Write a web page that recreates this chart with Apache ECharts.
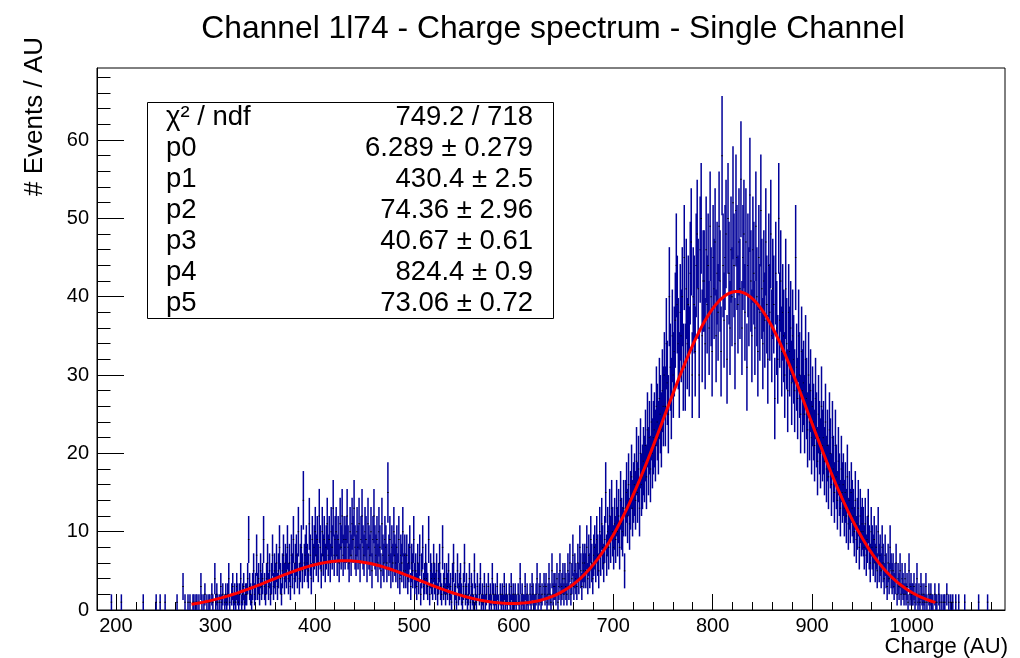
<!DOCTYPE html>
<html>
<head>
<meta charset="utf-8">
<script src="https://cdn.jsdelivr.net/npm/echarts@6/dist/echarts.min.js"></script>
<style>
  html, body { margin: 0; padding: 0; background: #ffffff; }
  #chart { width: 1020px; height: 658px; }
</style>
</head>
<body>
<div id="chart"></div>
<script>
// Histogram: 1 AU wide bins, first bin starts at binStart (AU)
const binStart = 181;

// bins 181 - 300
const countsA = [
  0,0,0,0,0,0,0,0,0,0,
  0,0,0,0,1,0,0,0,0,0,
  0,0,0,0,1,0,0,0,0,0,
  0,0,0,0,0,0,0,0,0,0,
  0,0,0,0,0,0,1,0,0,0,
  0,0,0,0,0,0,0,0,0,1,
  0,0,0,1,0,0,0,0,1,0,
  0,0,0,0,0,0,0,0,0,0,
  1,0,0,0,0,0,3,0,1,0,
  0,1,0,1,0,0,1,1,0,1,
  1,0,1,0,3,1,0,1,2,0,
  1,0,1,1,0,2,1,0,4,1
];
// bins 301 - 500
const countsB = [
  2,1,0,1,3,1,2,0,1,2,
  1,2,4,1,0,2,3,1,2,1,
  3,2,1,2,4,1,2,3,1,2,
  2,4,9,3,2,1,3,5,2,3,
  7,3,4,2,5,3,4,9,3,2,
  4,6,3,5,2,4,7,3,5,4,
  6,3,5,8,4,2,5,7,4,6,
  5,8,4,6,3,7,5,9,4,6,
  7,5,10,4,6,8,5,14,6,7,
  8,6,5,11,7,4,9,6,8,10,
  7,9,6,12,8,5,10,7,9,6,
  8,11,7,9,6,10,8,13,7,9,
  10,7,9,6,11,8,12,7,9,8,
  9,12,8,6,10,7,11,9,13,8,
  7,10,8,11,6,9,12,8,7,10,
  9,6,11,8,7,10,5,9,12,8,
  7,9,6,10,8,5,11,7,6,9,
  8,6,15,7,9,5,8,6,10,7,
  6,8,5,9,4,7,6,10,5,7,
  5,7,4,6,8,3,6,5,9,4
];
// bins 501 - 700
const countsC = [
  5,3,6,4,7,2,5,8,3,4,
  6,4,3,9,2,5,4,3,6,4,
  3,5,2,4,6,3,2,8,3,4,
  2,4,3,5,2,3,1,4,6,2,
  3,1,5,2,3,4,2,1,3,6,
  2,3,1,2,4,1,3,2,1,5,
  2,1,3,0,2,4,1,2,1,3,
  1,2,0,3,1,2,1,4,2,1,
  2,1,3,1,0,2,1,2,1,3,
  1,2,1,0,2,1,3,1,2,1,
  2,1,0,2,1,4,1,2,1,1,
  3,1,2,1,0,2,1,3,2,1,
  1,2,4,1,2,3,1,2,0,3,
  2,3,1,2,4,2,1,5,2,3,
  3,2,4,1,3,5,2,3,4,2,
  4,3,2,5,3,6,2,4,7,3,
  5,4,3,6,4,8,5,3,6,5,
  6,5,8,4,7,5,9,6,4,7,
  8,6,9,7,5,10,7,11,8,6,
  9,15,7,10,8,12,9,13,10,8
];
// bins 701 - 900
const countsD = [
  11,9,13,10,12,8,14,11,10,13,
  5,13,15,12,16,11,14,17,13,15,
  16,14,19,15,18,13,20,16,17,19,
  18,21,17,23,19,22,18,24,20,22,
  23,21,26,24,22,27,25,23,28,26,
  30,26,34,29,25,40,31,27,35,30,
  33,37,44,39,34,30,38,35,40,31,
  45,31,41,34,39,33,43,47,30,40,
  39,33,44,48,41,30,46,50,35,42,
  42,34,46,39,44,36,49,40,33,45,
  41,47,35,43,38,49,42,33,58,44,
  37,45,48,32,50,43,36,46,40,52,
  44,34,51,45,39,47,41,55,36,45,
  48,38,47,31,44,40,53,42,35,46,
  43,36,49,40,33,45,38,51,41,34,
  42,37,47,39,32,44,38,48,35,41,
  39,27,43,36,32,50,37,42,33,38,
  35,30,41,34,28,38,33,36,29,35,
  32,28,45,31,27,35,30,25,33,28,
  29,25,32,27,23,30,24,28,22,26
];
// bins 901 - 1093
const countsE = [
  24,21,27,23,19,25,22,20,26,21,
  22,19,24,18,21,17,23,20,16,22,
  18,15,21,17,14,19,16,13,18,15,
  16,13,15,12,17,11,14,12,15,13,
  12,10,14,9,11,13,8,12,10,11,
  10,8,11,7,9,12,8,6,10,8,
  7,9,6,8,5,10,6,7,5,8,
  6,4,7,5,3,6,4,8,5,4,
  5,3,4,6,2,4,3,5,2,4,
  3,2,4,2,3,1,5,2,3,2,
  2,3,1,2,4,1,2,1,3,2,
  1,2,1,3,1,0,2,1,2,1,
  1,0,2,1,1,0,2,1,0,1,
  0,1,1,0,2,0,1,0,1,0,
  1,0,0,1,0,0,1,0,0,0,
  0,0,1,0,0,0,0,0,0,0,
  0,0,0,0,0,0,1,0,0,0,
  0,0,0,0,0,1,0,0,0,0,
  0,0,0,0,0,0,0,0,0,0,
  0,0,0
];

// Fit: p0*gaus(p1,p2) + p3*gaus(p4,p5)
const fitParams = [6.289, 430.4, 74.36, 40.67, 824.4, 73.06];
const fitRange = [276, 1024];

// Stats box rows
const statNames = ['\u03c7\u00b2 / ndf', 'p0', 'p1', 'p2', 'p3', 'p4', 'p5'];
const statValues = ['749.2 / 718', '6.289 \u00b1 0.279', '430.4 \u00b1 2.5', '74.36 \u00b1 2.96',
                    '40.67 \u00b1 0.61', '824.4 \u00b1 0.9', '73.06 \u00b1 0.72'];

// Axis ticks
const xTickLabels = [200, 300, 400, 500, 600, 700, 800, 900, 1000];
const yTickLabels = [0, 10, 20, 30, 40, 50, 60];
const xRange = [181, 1094];
const yRange = [0, 69.2];

const FONT = "'Liberation Sans', Arial, Helvetica, sans-serif";

const counts = countsA.concat(countsB, countsC, countsD, countsE);
const histData = counts.map((n, i) => [binStart + i + 0.5, n]);

function fitFunc(x) {
  const [a1, m1, s1, a2, m2, s2] = fitParams;
  const d1 = (x - m1) / s1, d2 = (x - m2) / s2;
  return a1 * Math.exp(-0.5 * d1 * d1) + a2 * Math.exp(-0.5 * d2 * d2);
}
const fitData = [];
for (let x = fitRange[0]; x <= fitRange[1]; x += 1) fitData.push([x, fitFunc(x)]);

const xMinor = [];
for (let v = 200; v < xRange[1]; v += 20) if (v % 100 !== 0) xMinor.push(v);
const yMinor = [];
for (let v = 2; v < yRange[1]; v += 2) if (v % 10 !== 0) yMinor.push(v);

// Error bar (n +- sqrt(n)) plus a small marker at the bin content
function renderBin(params, api) {
  const n = api.value(1);
  if (!(n > 0)) return null;
  const x = api.value(0);
  const e = Math.sqrt(n);
  const top = api.coord([x, n + e]);
  const bot = api.coord([x, n - e]);
  const mid = api.coord([x, n]);
  return {
    type: 'group',
    children: [
      { type: 'line', shape: { x1: mid[0], y1: top[1], x2: mid[0], y2: bot[1] },
        style: { stroke: '#000099', lineWidth: 1.5 } },
      { type: 'rect', shape: { x: mid[0] - 0.75, y: mid[1] - 0.5, width: 1.5, height: 1 },
        style: { fill: '#000000' } }
    ]
  };
}

const axisLineStyle = { color: '#000', width: 1 };
const plainNumber = v => String(v);

const chart = echarts.init(document.getElementById('chart'), null, { renderer: 'canvas' });
chart.setOption({
  animation: false,
  backgroundColor: '#ffffff',
  title: {
    text: 'Channel 1l74 - Charge spectrum - Single Channel',
    left: 548, top: 8, textAlign: 'center',
    textStyle: { fontFamily: FONT, fontSize: 31.8, fontWeight: 'normal', color: '#000' }
  },
  grid: { left: 97, right: 15, top: 68, bottom: 48, show: true,
          borderColor: '#000', borderWidth: 1, backgroundColor: 'transparent' },
  xAxis: [
    { type: 'value', min: xRange[0], max: xRange[1], position: 'bottom',
      axisLine: { show: true, lineStyle: axisLineStyle },
      axisTick: { show: true, inside: true, length: 16, customValues: xTickLabels, lineStyle: axisLineStyle },
      axisLabel: { customValues: xTickLabels, formatter: plainNumber, fontFamily: FONT, fontSize: 20, color: '#000', margin: 6 },
      splitLine: { show: false } },
    { type: 'value', min: xRange[0], max: xRange[1], position: 'bottom',
      axisLine: { show: false },
      axisTick: { show: true, inside: true, length: 8, customValues: xMinor, lineStyle: axisLineStyle },
      axisLabel: { show: false },
      splitLine: { show: false } }
  ],
  yAxis: [
    { type: 'value', min: yRange[0], max: yRange[1], position: 'left',
      axisLine: { show: true, lineStyle: axisLineStyle },
      axisTick: { show: true, inside: true, length: 27, customValues: yTickLabels, lineStyle: axisLineStyle },
      axisLabel: { customValues: yTickLabels, formatter: plainNumber, fontFamily: FONT, fontSize: 20, color: '#000', margin: 8 },
      splitLine: { show: false } },
    { type: 'value', min: yRange[0], max: yRange[1], position: 'left',
      axisLine: { show: false },
      axisTick: { show: true, inside: true, length: 13.5, customValues: yMinor, lineStyle: axisLineStyle },
      axisLabel: { show: false },
      splitLine: { show: false } }
  ],
  series: [
    { name: 'histogram', type: 'custom', xAxisIndex: 0, yAxisIndex: 0,
      renderItem: renderBin, data: histData, clip: true, progressive: 0, z: 3,
      encode: { x: 0, y: 1 } },
    { name: 'fit', type: 'line', xAxisIndex: 0, yAxisIndex: 0, data: fitData,
      showSymbol: false, symbol: 'none', smooth: false, clip: true, z: 5,
      lineStyle: { color: '#ff0000', width: 3 } }
  ],
  graphic: [
    { type: 'text', x: 35, y: 37, rotation: Math.PI / 2, z: 100,
      style: { text: '# Events / AU', fontFamily: FONT, fontSize: 26, fill: '#000',
               align: 'right', verticalAlign: 'middle' } },
    { type: 'text', x: 1008, y: 647, z: 100,
      style: { text: 'Charge (AU)', fontFamily: FONT, fontSize: 22, fill: '#000',
               align: 'right', verticalAlign: 'middle' } },
    { type: 'rect', z: 100, shape: { x: 147.5, y: 102.5, width: 406, height: 216 },
      style: { fill: '#ffffff', stroke: '#000', lineWidth: 1 } }
  ].concat(statNames.map((t, i) => ({
    type: 'text', x: 166, y: 117.5 + i * 30.95, z: 101,
    style: { text: t, fontFamily: FONT, fontSize: 27.5, fill: '#000', align: 'left', verticalAlign: 'middle' }
  }))).concat(statValues.map((t, i) => ({
    type: 'text', x: 533, y: 117.5 + i * 30.95, z: 101,
    style: { text: t, fontFamily: FONT, fontSize: 27.5, fill: '#000', align: 'right', verticalAlign: 'middle' }
  })))
});
</script>
</body>
</html>
